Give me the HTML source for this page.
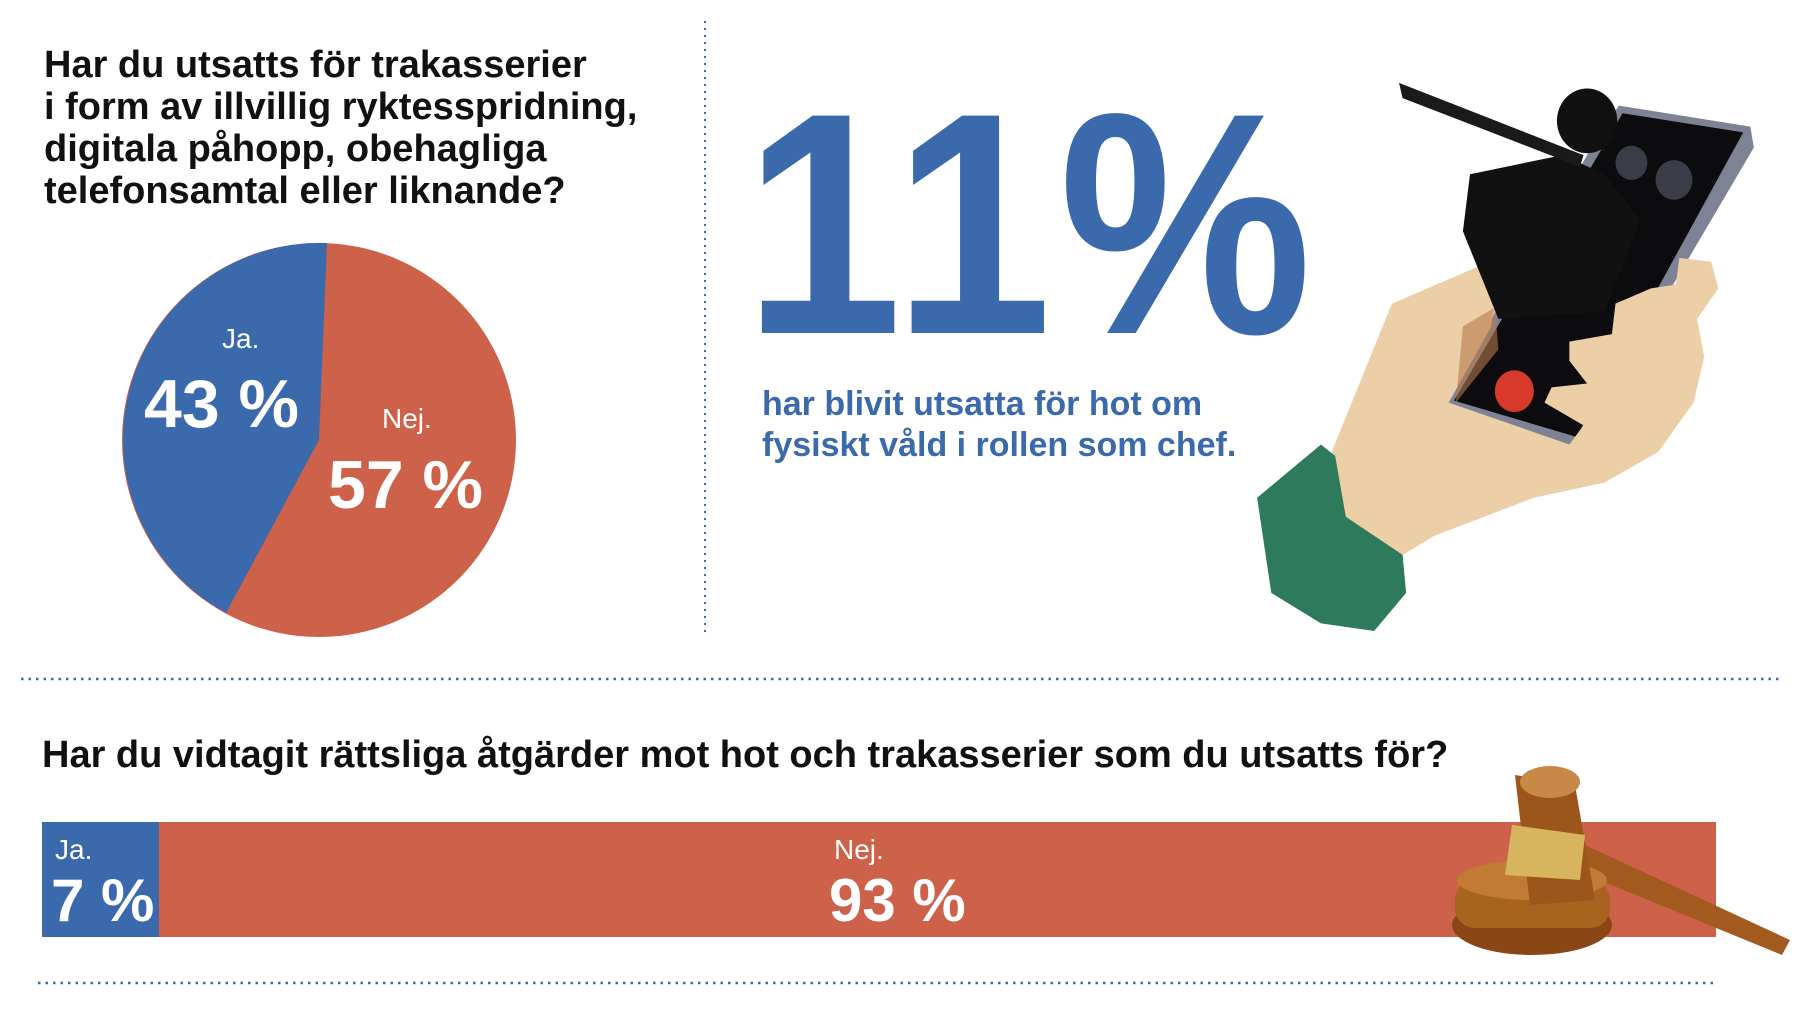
<!DOCTYPE html>
<html><head><meta charset="utf-8"><style>
html,body{margin:0;padding:0;background:#fff}
body{width:1800px;height:1013px;position:relative;overflow:hidden;font-family:"Liberation Sans",sans-serif}
.t{position:absolute;white-space:nowrap;font-weight:bold;transform-origin:0 0}
</style></head><body>
<svg width="1800" height="1013" style="position:absolute;left:0;top:0">
<line x1="705" y1="21" x2="705" y2="633" stroke="#3a6aab" stroke-width="2" stroke-dasharray="2,5"/>
<line x1="21" y1="679" x2="1782" y2="679" stroke="#3a6aab" stroke-width="2.5" stroke-dasharray="2.5,5"/>
<line x1="38" y1="983" x2="1716" y2="983" stroke="#3a6aab" stroke-width="2.5" stroke-dasharray="2.5,5"/>
<circle cx="319" cy="440" r="197" fill="#cd614a"/>
<path d="M319,440 L327,243 A197,197 0 0 0 226,613 Z" fill="#3a6aab"/>
<rect x="42" y="822" width="1674" height="115" fill="#cd614a"/>
<rect x="42" y="822" width="117" height="115" fill="#3a6aab"/>
<path d="M1585,845 L1790,940 L1782,955 L1575,870 Z" fill="#a35a1f"/>
<ellipse cx="1532" cy="925" rx="80" ry="30" fill="#8a4715"/>
<rect x="1455" y="880" width="155" height="48" rx="20" fill="#a8631f"/>
<ellipse cx="1532" cy="880" rx="75" ry="20" fill="#c27a35"/>
<path d="M1515,775 L1575,785 L1595,900 L1530,905 Z" fill="#9c561b"/>
<path d="M1512,825 L1585,835 L1580,880 L1505,875 Z" fill="#d7b45e"/>
<ellipse cx="1550" cy="782" rx="30" ry="16" fill="#c98946"/>
</svg>
<svg width="550" height="590" viewBox="0 0 1550 1550" preserveAspectRatio="none" style="position:absolute;left:1250px;top:60px">
<path d="M1040,120 L1410,175 L1420,230 L940,990 L900,1020 L560,910 L555,880 L700,650 L1000,170 Z" fill="#7d8294"/>
<path d="M1050,140 L1390,190 L920,990 L575,895 Z" fill="#0c0c0e"/>
<path d="M230,1030 L400,640 L600,560 L700,520 L680,700 L560,900 L900,1010 L940,960 L830,900 L850,860 L950,850 L900,790 L900,740 L1020,720 L1030,640 L1130,600 L1200,590 L1210,520 L1300,530 L1320,600 L1260,680 L1280,780 L1250,900 L1150,1030 L1000,1110 L800,1150 L520,1250 L430,1300 L260,1200 Z" fill="#eccfa6"/>
<path d="M600,700 L690,650 L700,760 L580,900 Z" fill="#b87a4a" opacity=".6"/>
<path d="M20,1150 L200,1010 L240,1040 L270,1200 L430,1300 L440,1400 L350,1500 L200,1480 L60,1400 Z" fill="#2e7a5c"/>
<circle cx="950" cy="160" r="85" fill="#111"/>
<path d="M620,300 L880,250 L1000,300 L1100,420 L1000,660 L700,680 L600,450 Z" fill="#111"/>
<path d="M420,60 L940,250 L930,280 L430,100 Z" fill="#1a1a1a"/>
<circle cx="1075" cy="270" r="45" fill="#3a3d48"/>
<circle cx="1195" cy="315" r="52" fill="#3a3d48"/>
<circle cx="745" cy="870" r="55" fill="#d7392c"/>
</svg>
<div class="t" style="left:44px;top:44px;font-size:38px;line-height:42px;color:#111">Har du utsatts för trakasserier<br>i form av illvillig ryktesspridning,<br>digitala påhopp, obehagliga<br>telefonsamtal eller liknande?</div>
<div class="t" style="left:222px;top:323px;font-size:28px;color:#fff;font-weight:normal">Ja.</div>
<div class="t" style="left:144px;top:365px;font-size:68px;color:#fff">43 %</div>
<div class="t" style="left:382px;top:403px;font-size:28px;color:#fff;font-weight:normal">Nej.</div>
<div class="t" style="left:328px;top:446px;font-size:68px;color:#fff">57 %</div>
<div class="t" style="left:744px;top:66px;font-size:316px;line-height:316px;color:#3a6aab;letter-spacing:8px;transform:scaleX(0.9)">11%</div>
<div class="t" style="left:762px;top:384px;font-size:34px;line-height:41px;color:#3a6aab">har blivit utsatta för hot om<br>fysiskt våld i rollen som chef.</div>
<div class="t" style="left:42px;top:734px;font-size:38px;color:#111">Har du vidtagit rättsliga åtgärder mot hot och trakasserier som du utsatts för?</div>
<div class="t" style="left:55px;top:834px;font-size:28px;color:#fff;font-weight:normal">Ja.</div>
<div class="t" style="left:51px;top:866px;font-size:60px;color:#fff">7 %</div>
<div class="t" style="left:834px;top:834px;font-size:28px;color:#fff;font-weight:normal">Nej.</div>
<div class="t" style="left:829px;top:866px;font-size:60px;color:#fff">93 %</div>
</body></html>
